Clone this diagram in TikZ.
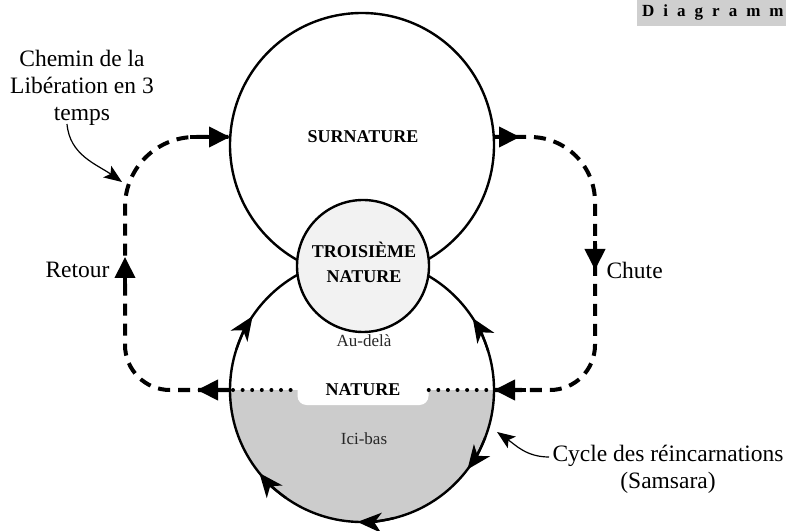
\documentclass[tikz,border=0pt]{standalone}
\usepackage{fontspec}
\setmainfont{Liberation Serif}
\usetikzlibrary{arrows.meta,calc}
\definecolor{lowgrey}{HTML}{CCCCCC}
\definecolor{thirdfill}{HTML}{F2F2F2}
\definecolor{boxgrey}{HTML}{CFCFCF}
\begin{document}
\begin{tikzpicture}[x=1pt,y=1pt,
  ring/.style={circle,draw,line width=2.4pt,inner sep=0pt},
  flow/.style={line width=4pt,dash pattern=on 12pt off 8pt},
  flowtip/.style={line width=4pt,-{Triangle[length=21pt,width=20pt]}},
  cyc/.style={line width=2.4pt,-{Stealth[length=24pt,width=20pt,inset=7pt]}},
  note/.style={line width=1.2pt,-{Stealth[length=18pt,width=14pt,inset=4pt]}},
  dots/.style={line width=4pt,line cap=round,dash pattern=on 0pt off 9.6pt},
  big/.style={font=\fontsize{23.5}{27}\selectfont},
  boldlbl/.style={font=\fontsize{18}{25}\selectfont\bfseries},
  smalllbl/.style={font=\fontsize{17}{20}\selectfont,text=black!85}
]
\useasboundingbox (0,0) rectangle (786,530);
% lower half grey
\fill[lowgrey] (230,140) arc[start angle=180,end angle=360,radius=132] -- cycle;
% circles
\node[ring,minimum size=264pt] (sur) at (362,385) {};
\node[ring,minimum size=264pt] (nat) at (362,140) {};
\node[ring,fill=thirdfill,minimum size=132pt] (third) at (363,264) {};
% labels in circles
\node[boldlbl] (surlbl) at (363,393) {SURNATURE};
\node[boldlbl,align=center] (thirdlbl) at (364,268) {TROISIÈME\\NATURE};
\node[smalllbl] (audela) at (364,189) {Au-delà};
\node[smalllbl] (icibas) at (364,91) {Ici-bas};
\node[boldlbl,fill=white,rounded corners=9pt,minimum width=131pt,minimum height=30pt] (natlbl) at (363,140) {NATURE};
% key points
\coordinate (natL) at (230,140);
\coordinate (natR) at (494,140);
\coordinate (surL) at (230,393);
\coordinate (surR) at (494,393);
% dotted
\draw[dots] (233,140) -- (natlbl.west);
\draw[dots] (natlbl.east) -- (494,140);
% dashed loops
\draw[flow] (natL) -- (170,140) arc[start angle=270,end angle=180,radius=45] -- (125,323) arc[start angle=180,end angle=90,radius=70] -- (surL);
\draw[flow] (surR) -- (530,393) arc[start angle=90,end angle=0,radius=65] -- (595,185) arc[start angle=0,end angle=-90,radius=45] -- (natR);
% solid arrows on loops
\draw[flowtip] (natL) -- (197,140);
\draw[flowtip] (190,393) -- (surL);
\draw[line width=4pt] (surR) -- (524,393);
\draw[flowtip] (surR) -- (520,393);
\draw[flowtip] (526,140) -- (natR);
\draw[flowtip] (125,246) -- (125,273);
\draw[flowtip] (595,289) -- (595,260);
% cycle arrows
\draw[cyc] (nat.center) ++(162:132) arc[start angle=162,end angle=146,radius=132];
\draw[cyc] (nat.center) ++(17:132) arc[start angle=17,end angle=33,radius=132];
\draw[cyc] (nat.center) ++(235:132) arc[start angle=235,end angle=219,radius=132];
\draw[cyc] (nat.center) ++(284:132) arc[start angle=284,end angle=268,radius=132];
\draw[cyc] (nat.center) ++(339:132) arc[start angle=339,end angle=323,radius=132];
% side labels
\node[big,anchor=east] (retour) at (113,260) {Retour};
\node[big,anchor=west] (chute) at (603,260) {Chute};
\node[big,align=center] (chemin) at (82,442) {Chemin de la\\Libération en 3\\temps};
\node[big,align=center] (cycle) at (668,61) {Cycle des réincarnations\\(Samsara)};
% annotation arrows
\coordinate (noteA) at (67,406);
\coordinate (noteB) at (122,348);
\coordinate (noteC) at (549,73);
\coordinate (noteD) at (497,98);
\draw[note] (noteA) to[out=-85,in=145] (noteB);
\draw[note] (noteC) to[out=180,in=-35] (noteD);
% title box
\fill[boxgrey] (637,504) rectangle (786,530);
\node[anchor=base west,inner sep=0pt,font=\fontsize{17}{20}\selectfont\bfseries] (title) at (642,513) {D\hspace{9pt}i\hspace{9pt}a\hspace{9pt}g\hspace{9pt}r\hspace{9pt}a\hspace{9pt}m\hspace{9pt}m};
\end{tikzpicture}
\end{document}
